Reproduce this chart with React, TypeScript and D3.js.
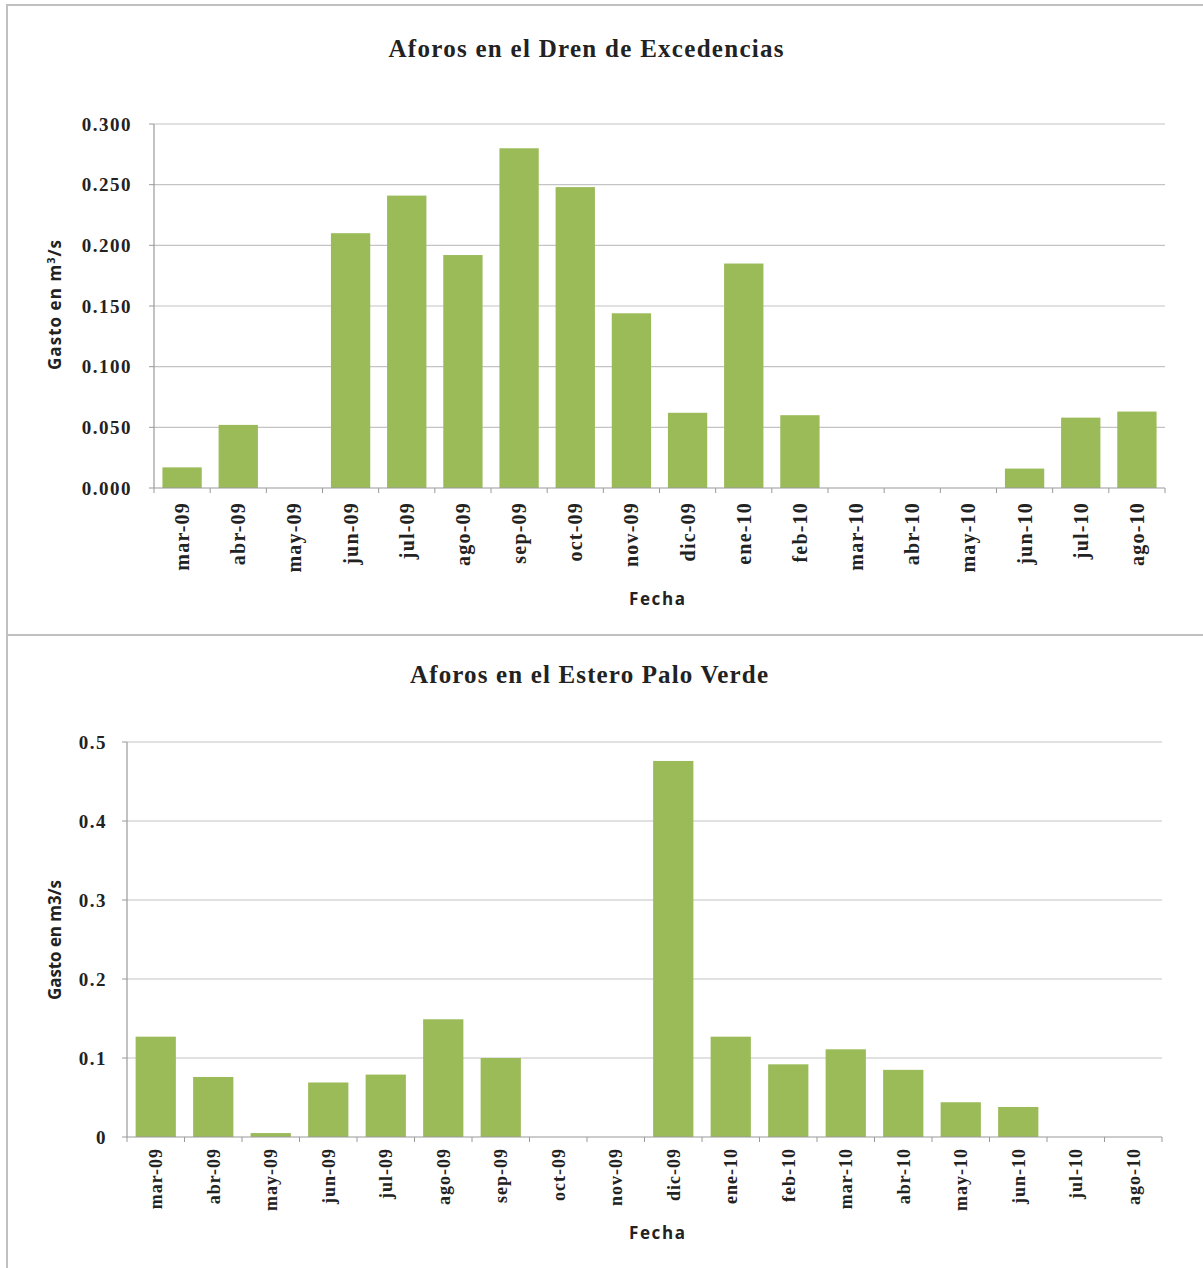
import React from "react";
import * as d3 from "d3";

const months = ["mar-09","abr-09","may-09","jun-09","jul-09","ago-09","sep-09","oct-09","nov-09","dic-09","ene-10","feb-10","mar-10","abr-10","may-10","jun-10","jul-10","ago-10"];
const drenValues = [0.017,0.052,0,0.210,0.241,0.192,0.280,0.248,0.144,0.062,0.185,0.060,0,0,0,0.016,0.058,0.063];
const esteroValues = [0.127,0.076,0.005,0.069,0.079,0.149,0.100,0,0,0.476,0.127,0.092,0.111,0.085,0.044,0.038,0,0];
const drenTicks = [0,0.05,0.1,0.15,0.2,0.25,0.3];
const esteroTicks = [0,0.1,0.2,0.3,0.4,0.5];

const BAR = "#9bbb59";
const GRID = "#c4c4c4";
const AXIS = "#9a9a9a";
const SERIF = "'Liberation Serif', 'DejaVu Serif', serif";
const SANS = "'Open Sans', 'Liberation Sans', sans-serif";

type ChartProps = {
  title: string; titleLen: number; values: number[]; ticks: number[]; fmt: (v: number) => string;
  x0: number; x1: number; yTop: number; yBot: number; yMax: number;
  titleY: number; titleX: number; yLabel: React.ReactNode; yLabelLen: number; yLabelY: number; fechaY: number;
  tickOff: number; xLabOff: number; xLabSize: number; xLabSpacing: number;
};

function Chart(p: ChartProps) {
  const x = d3.scaleBand<string>().domain(months).range([p.x0, p.x1]).paddingInner(0.3).paddingOuter(0.15);
  const y = d3.scaleLinear().domain([0, p.yMax]).range([p.yBot, p.yTop]);
  const step = (p.x1 - p.x0) / months.length;
  return (
    <g>
      <text x={p.titleX} y={p.titleY} textAnchor="middle" fontFamily={SERIF} fontWeight="bold" fontSize={25} fill="#222" textLength={p.titleLen} lengthAdjust="spacing">{p.title}</text>
      {p.ticks.map((t) => (
        <g key={t}>
          {t > 0 && <line x1={p.x0} x2={p.x1} y1={y(t)} y2={y(t)} stroke={GRID} strokeWidth={1.2} />}
          <line x1={p.x0 - 5} x2={p.x0} y1={y(t)} y2={y(t)} stroke={AXIS} strokeWidth={1} />
          <text x={p.x0 - p.tickOff} y={y(t)} dy="0.35em" textAnchor="end" fontFamily={SERIF} fontWeight="bold" fontSize={19} letterSpacing={1.5} fill="#222">{p.fmt(t)}</text>
        </g>
      ))}
      {months.map((m, i) => (
        <rect key={m} x={x(m)} y={y(p.values[i])} width={x.bandwidth()} height={y(0) - y(p.values[i])} fill={BAR} />
      ))}
      <line x1={p.x0} x2={p.x0} y1={p.yTop} y2={p.yBot} stroke={AXIS} strokeWidth={1.2} />
      <line x1={p.x0} x2={p.x1} y1={p.yBot} y2={p.yBot} stroke={AXIS} strokeWidth={1.2} />
      {d3.range(months.length + 1).map((i) => (
        <line key={i} x1={p.x0 + i * step} x2={p.x0 + i * step} y1={p.yBot} y2={p.yBot + 5} stroke={AXIS} strokeWidth={1} />
      ))}
      {months.map((m) => {
        const cx = (x(m) as number) + x.bandwidth() / 2;
        const ty = p.yBot + p.xLabOff;
        return (
          <text key={m} transform={`translate(${cx},${ty}) rotate(-90)`} textAnchor="end" dy="0.35em" fontFamily={SERIF} fontWeight="bold" fontSize={p.xLabSize} letterSpacing={p.xLabSpacing} fill="#222">{m}</text>
        );
      })}
      <text transform={`translate(55,${p.yLabelY}) rotate(-90)`} textAnchor="middle" dy="0.35em" fontFamily={SANS} fontWeight="bold" fontSize={17} fill="#222" textLength={p.yLabelLen} lengthAdjust="spacing">{p.yLabel}</text>
      <text x={657} y={p.fechaY} textAnchor="middle" dy="0.35em" fontFamily={SANS} fontWeight="bold" fontSize={17} fill="#222" textLength={56} lengthAdjust="spacing">Fecha</text>
    </g>
  );
}

export default function App() {
  const f3 = d3.format(".3f");
  const f1 = (v: number) => (v === 0 ? "0" : d3.format(".1f")(v));
  return (
    <svg width={1203} height={1268} style={{ position: "absolute", left: 0, top: 0, background: "#fff" }}>
      <rect x={0} y={0} width={1203} height={1268} fill="#fff" />
      <rect x={7} y={5} width={1210} height={630} fill="none" stroke="#c0c0c0" strokeWidth={2} />
      <rect x={7} y={635} width={1210} height={650} fill="none" stroke="#c0c0c0" strokeWidth={2} />
      <Chart title="Aforos en el Dren de Excedencias" titleLen={395} values={drenValues} ticks={drenTicks} fmt={f3}
        x0={154} x1={1165} yTop={124} yBot={488} yMax={0.3} titleX={586} titleY={57}
        yLabel={<>Gasto en m<tspan dy="-6" fontSize={11}>3</tspan><tspan dy="6">/s</tspan></>} yLabelLen={130} yLabelY={305} fechaY={599}
        tickOff={22} xLabOff={14} xLabSize={20} xLabSpacing={1.2} />
      <Chart title="Aforos en el Estero Palo Verde" titleLen={358} values={esteroValues} ticks={esteroTicks} fmt={f1}
        x0={127} x1={1162} yTop={742} yBot={1137} yMax={0.5} titleX={589} titleY={683}
        yLabel="Gasto en m3/s" yLabelLen={120} yLabelY={940} fechaY={1233}
        tickOff={20} xLabOff={11} xLabSize={18} xLabSpacing={1} />
    </svg>
  );
}
